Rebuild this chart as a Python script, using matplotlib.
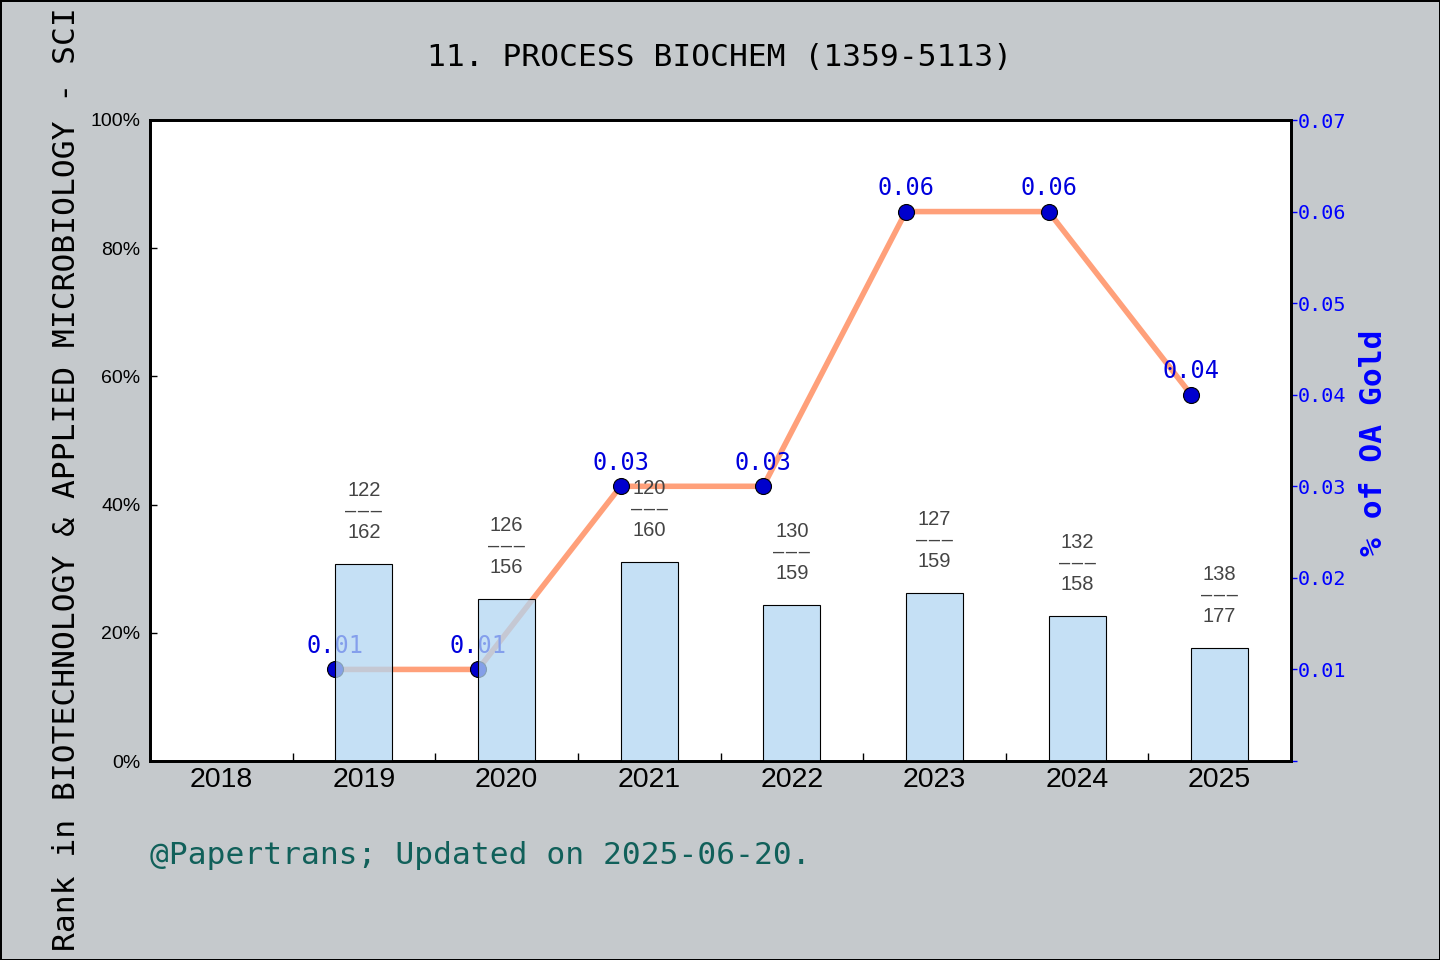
import numpy as np
import matplotlib
matplotlib.use("Agg")
import matplotlib.pyplot as plt
from matplotlib.ticker import FixedLocator


years = ["2018", "2019", "2020", "2021", "2022", "2023", "2024", "2025"]
rank_pct = [np.nan, 30.7, 25.2, 31.0, 24.3, 26.2, 22.6, 17.6]
rank_pos = [None, 122, 126, 120, 130, 127, 132, 138]
rank_total = [None, 162, 156, 160, 159, 159, 158, 177]
oa_gold = [np.nan, 0.01, 0.01, 0.03, 0.03, 0.06, 0.06, 0.04]
oa_ticks = [0, 0.01, 0.02, 0.03, 0.04, 0.05, 0.06, 0.07]
pct_ticks = [0, 20, 40, 60, 80, 100]

title = "11. PROCESS BIOCHEM (1359-5113)"
left_label = "Rank in BIOTECHNOLOGY & APPLIED MICROBIOLOGY - SCI"
right_label = "% of OA Gold"
footer = "@Papertrans; Updated on 2025-06-20."

MONO = "DejaVu Sans Mono"
SANS = ["Liberation Sans", "DejaVu Sans"]
BG = "#c5c9cc"
DASHES = "\u2013\u200a\u2013\u200a\u2013"

fig = plt.figure(figsize=(14.4, 9.6), dpi=100)
fig.patch.set_facecolor(BG)
fig.patch.set_edgecolor("black")
fig.patch.set_linewidth(2)

W, H = 1440, 960
ax = fig.add_axes([150 / W, 1 - 761 / H, (1291 - 150) / W, (761 - 120) / H])
ax2 = ax.twinx()
ax.set_zorder(ax2.get_zorder() + 1)
ax.patch.set_visible(False)
ax2.patch.set_visible(True)
ax2.patch.set_facecolor("white")

x = np.arange(len(years))

# line on the right scale (drawn below the bars)
ax2.plot(x - 0.2, oa_gold, color="#ffa07a", lw=4, marker="o", ms=11.5,
         mfc="#0000cd", mec="black", mew=0.8, zorder=3)
for xi, v in zip(x, oa_gold):
    if np.isnan(v):
        continue
    ax2.annotate(f"{v:.2f}", (xi - 0.2, v), xytext=(0, 17), textcoords="offset points",
                 ha="center", va="center", color="#0000dd", fontsize=17, family=MONO)
ax2.set_ylim(0, 0.07)
ax2.yaxis.set_major_locator(FixedLocator(oa_ticks))
ax2.set_yticklabels(["" if t == 0 else f"{t:.2f}" for t in oa_ticks])
ax2.tick_params(axis="y", direction="out", length=4, width=1, colors="#0000ff",
                labelsize=14.5, pad=1)
for lab in ax2.get_yticklabels():
    lab.set_family(MONO)

# bars on the left scale (drawn on top, semi transparent)
ax.bar(x, rank_pct, width=0.4, color=(0.698, 0.839, 0.949, 0.75),
       edgecolor="black", linewidth=0.8, zorder=2)
for xi, v, r, n in zip(x, rank_pct, rank_pos, rank_total):
    if r is None:
        continue
    ax.annotate(f"{r}\n{DASHES}\n{n}", (xi, v), xytext=(0, 38), textcoords="offset points",
                ha="center", va="center", color="#444444", fontsize=14.5,
                family=SANS, linespacing=1.15)

ax.set_xlim(-0.5, len(years) - 0.5)
ax.set_ylim(0, 100)
ax.set_xticks(x)
ax.set_xticklabels(years, family=SANS, fontsize=20.5)
ax.set_xticks(x[:-1] + 0.5, minor=True)
ax.tick_params(axis="x", which="major", length=0, pad=4)
ax.tick_params(axis="x", which="minor", direction="in", length=6, width=1)
ax.set_yticks(pct_ticks)
ax.set_yticklabels([f"{p}%" for p in pct_ticks], family=SANS, fontsize=14)
ax.tick_params(axis="y", direction="in", length=5, width=1, pad=7)
ax2.set_xlim(ax.get_xlim())

for a in (ax, ax2):
    for s in a.spines.values():
        s.set_linewidth(2)
        s.set_color("black")

fig.text(720 / W, 1 - 57 / H, title, ha="center", va="center", fontsize=22.5,
         family=MONO, color="black")
fig.text(67 / W, 1 - 479 / H, left_label, ha="center", va="center", rotation=90,
         fontsize=22.5, family=MONO, color="black")
fig.text(1373 / W, 1 - 443 / H, right_label, ha="center", va="center", rotation=90,
         fontsize=22.5, family=MONO, fontweight="bold", color="#0000ff")
fig.text(150 / W, 1 - 855 / H, footer, ha="left", va="center", fontsize=22.5,
         family=MONO, color="#11605a")

fig.savefig("out.png", dpi=100, facecolor=fig.get_facecolor(),
            edgecolor=fig.get_edgecolor())
